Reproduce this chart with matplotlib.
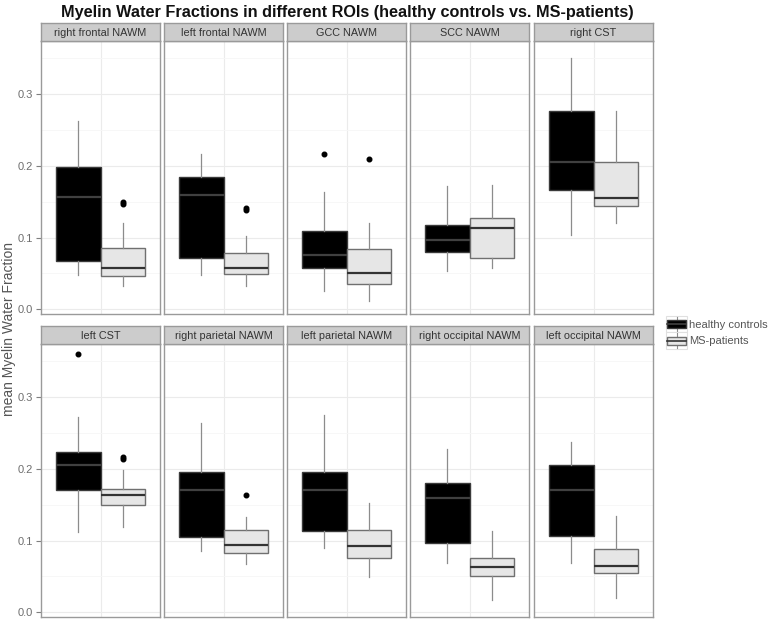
import matplotlib
matplotlib.use("Agg")
import matplotlib.pyplot as plt
from matplotlib.legend_handler import HandlerBase
from matplotlib.patches import Rectangle
from matplotlib.lines import Line2D

plt.rcParams['font.family'] = ['Liberation Sans', 'DejaVu Sans']

rois = ["right frontal NAWM", "left frontal NAWM", "GCC NAWM", "SCC NAWM", "right CST",
        "left CST", "right parietal NAWM", "left parietal NAWM", "right occipital NAWM",
        "left occipital NAWM"]
groups = ["healthy controls", "MS-patients"]

hc_whislo = [0.048, 0.048, 0.026, 0.053, 0.103, 0.112, 0.086, 0.089, 0.069, 0.069]
hc_q1 = [0.067, 0.072, 0.058, 0.080, 0.166, 0.171, 0.105, 0.114, 0.096, 0.107]
hc_med = [0.157, 0.159, 0.075, 0.096, 0.205, 0.206, 0.171, 0.170, 0.160, 0.171]
hc_q3 = [0.199, 0.184, 0.109, 0.118, 0.277, 0.224, 0.195, 0.195, 0.181, 0.205]
hc_whishi = [0.262, 0.216, 0.163, 0.172, 0.351, 0.273, 0.264, 0.275, 0.228, 0.237]
hc_out = [[], [], [0.216], [], [], [0.360], [], [], [], []]

ms_whislo = [0.033, 0.033, 0.012, 0.057, 0.120, 0.119, 0.067, 0.049, 0.017, 0.020]
ms_q1 = [0.046, 0.049, 0.035, 0.071, 0.144, 0.149, 0.083, 0.076, 0.050, 0.055]
ms_med = [0.058, 0.058, 0.050, 0.114, 0.155, 0.164, 0.094, 0.093, 0.063, 0.065]
ms_q3 = [0.085, 0.078, 0.084, 0.128, 0.205, 0.172, 0.115, 0.115, 0.076, 0.088]
ms_whishi = [0.121, 0.102, 0.121, 0.174, 0.277, 0.198, 0.133, 0.152, 0.114, 0.134]
ms_out = [[0.147, 0.149], [0.138, 0.141], [0.209], [], [], [0.214, 0.216], [0.164], [], [], []]

y_ticks = [0.0, 0.1, 0.2, 0.3]
y_tick_labels = ["0.0", "0.1", "0.2", "0.3"]

W, H = 777, 626
fig = plt.figure(figsize=(W / 100, H / 100), dpi=100)

fills = ["#000000", "#e6e6e6"]
edges = ["#3a3a3a", "#707070"]
meds = ["#404040", "#333333"]

col_x = [41, 164, 287, 410, 534]
pw = 119
row_top = [41, 344]
ph = 273
strip_h = 18


def fx(px):
    return px / W


def fy(py):
    return 1 - py / H


for i, roi in enumerate(rois):
    r, c = divmod(i, 5)
    x0 = col_x[c]
    ytop = row_top[r]
    ax = fig.add_axes([fx(x0), fy(ytop + ph), pw / W, ph / H])
    ax.set_xlim(0.4, 1.6)
    ax.set_ylim(-0.0066, 0.3742)
    ax.set_yticks(y_ticks)
    ax.set_yticks([0.05, 0.15, 0.25, 0.35], minor=True)
    ax.set_xticks([1.0])
    ax.grid(True, which='major', color='#ebebeb', lw=0.8)
    ax.grid(True, which='minor', axis='y', color='#f6f6f6', lw=0.6)
    ax.set_axisbelow(True)
    ax.tick_params(axis='x', length=0, labelbottom=False)
    ax.tick_params(axis='y', which='minor', length=0)
    if c == 0:
        ax.set_yticklabels(y_tick_labels)
        ax.tick_params(axis='y', length=3.5, color='#7f7f7f', labelsize=8,
                       labelcolor='#6e6e6e', pad=2)
    else:
        ax.tick_params(axis='y', length=0, labelleft=False)
    for sp in ax.spines.values():
        sp.set_color('#9a9a9a')
        sp.set_linewidth(1.0)

    stats = [
        dict(whislo=hc_whislo[i], q1=hc_q1[i], med=hc_med[i], q3=hc_q3[i],
             whishi=hc_whishi[i], fliers=hc_out[i]),
        dict(whislo=ms_whislo[i], q1=ms_q1[i], med=ms_med[i], q3=ms_q3[i],
             whishi=ms_whishi[i], fliers=ms_out[i]),
    ]
    for k in range(2):
        ax.bxp([stats[k]], positions=[0.775 + 0.45 * k], widths=0.45, patch_artist=True,
               showcaps=False, manage_ticks=False,
               boxprops=dict(facecolor=fills[k], edgecolor=edges[k], lw=1.0),
               medianprops=dict(color=meds[k], lw=1.6),
               whiskerprops=dict(color='#8c8c8c', lw=0.9),
               flierprops=dict(marker='o', markerfacecolor='black', markeredgecolor='black',
                               markersize=3.3, linestyle='none'))

    sax = fig.add_axes([fx(x0), fy(ytop), pw / W, strip_h / H])
    sax.set_facecolor('#cccccc')
    sax.set_xticks([])
    sax.set_yticks([])
    for sp in sax.spines.values():
        sp.set_color('#9a9a9a')
        sp.set_linewidth(1.0)
    sax.text(0.5, 0.45, roi, ha='center', va='center', fontsize=7.8, color='#333333',
             transform=sax.transAxes)

fig.text(fx(347), fy(12), "Myelin Water Fractions in different ROIs (healthy controls vs. MS-patients)",
         ha='center', va='center', fontsize=11.7, fontweight='bold', color='#111111')
fig.text(fx(9), fy(329), "mean Myelin Water Fraction", rotation=90, ha='center', va='center',
         fontsize=10, color='#555555')


class BoxHandler(HandlerBase):
    def __init__(self, k):
        super().__init__()
        self.k = k

    def create_artists(self, legend, orig_handle, xdescent, ydescent, width, height,
                       fontsize, trans):
        k = self.k
        bg = Rectangle((-xdescent, -ydescent), width, height, facecolor='white',
                       edgecolor='#e0e0e0', lw=0.8, transform=trans)
        cx = -xdescent + width / 2
        wl = Line2D([cx, cx], [-ydescent + height * 0.05, -ydescent + height * 0.95],
                    color='#8c8c8c', lw=0.8, transform=trans)
        box = Rectangle((-xdescent + width * 0.07, -ydescent + height * 0.25), width * 0.86,
                        height * 0.5, facecolor=fills[k], edgecolor=edges[k], lw=1.0,
                        transform=trans)
        ml = Line2D([-xdescent + width * 0.07, -xdescent + width * 0.93],
                    [-ydescent + height * 0.5] * 2, color=meds[k], lw=1.2, transform=trans)
        return [bg, wl, box, ml]


h0 = Rectangle((0, 0), 1, 1)
h1 = Rectangle((0, 0), 1, 1)
leg = fig.legend([h0, h1], groups, loc='upper left', bbox_to_anchor=(fx(666), fy(316)),
                 frameon=False, fontsize=8, handler_map={h0: BoxHandler(0), h1: BoxHandler(1)},
                 handlelength=1.9, handleheight=1.9, handletextpad=0.2, labelspacing=0.0,
                 borderpad=0.0, borderaxespad=0)
for t in leg.get_texts():
    t.set_color('#555555')

fig.savefig("out.png", dpi=100)
